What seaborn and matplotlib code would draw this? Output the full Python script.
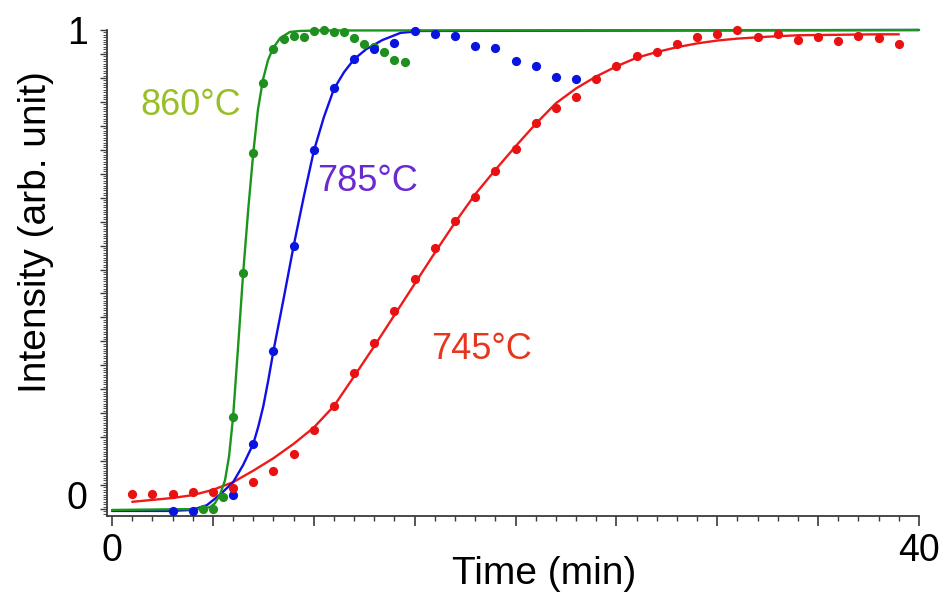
import numpy as np
import pandas as pd
import matplotlib
matplotlib.use("Agg")
import matplotlib.pyplot as plt
from matplotlib.ticker import MultipleLocator, FuncFormatter
import seaborn as sns

# ---------------- data ----------------
# 860 °C measured points
t860 = [4.5, 5.0, 5.5, 6.0, 6.5, 7.0, 7.5, 8.0, 8.5, 9.0, 9.5, 10.0, 10.5,
        11.0, 11.5, 12.0, 12.5, 13.0, 13.5, 14.0, 14.5]
i860 = [0.0, 0.0, 0.025, 0.192, 0.493, 0.743, 0.889, 0.960, 0.981, 0.987,
        0.985, 0.998, 1.0, 0.996, 0.996, 0.983, 0.971, 0.965, 0.954, 0.937, 0.933]
# 785 °C measured points
t785 = [3, 4, 6, 7, 8, 9, 10, 11, 12, 13, 14, 15, 16, 17, 18, 19, 20, 21, 22, 23]
i785 = [-0.004, -0.004, 0.029, 0.136, 0.330, 0.549, 0.749, 0.879, 0.939, 0.960,
        0.973, 0.998, 0.992, 0.987, 0.967, 0.962, 0.935, 0.925, 0.902, 0.898]
# 745 °C measured points
t745 = list(range(1, 40))
i745 = [0.031, 0.031, 0.031, 0.035, 0.035, 0.044, 0.056, 0.079, 0.115, 0.165,
        0.215, 0.284, 0.347, 0.413, 0.480, 0.545, 0.601, 0.651, 0.706, 0.752,
        0.806, 0.837, 0.860, 0.898, 0.925, 0.946, 0.954, 0.971, 0.985, 0.992,
        1.0, 0.985, 0.992, 0.979, 0.985, 0.977, 0.987, 0.983, 0.971]

# fitted curves
fit860_t = [0.0, 4.4, 4.86, 5.1, 5.35, 5.6, 5.8, 6.0, 6.25, 6.5, 6.75, 7.0,
            7.23, 7.48, 7.73, 7.98, 8.33, 8.82, 9.3, 10.3, 40.0]
fit860_i = [-0.002, 0.0, 0.004, 0.012, 0.030, 0.060, 0.110, 0.192, 0.340, 0.493,
            0.625, 0.743, 0.833, 0.896, 0.937, 0.962, 0.983, 0.996, 0.998, 0.999, 1.0]
fit785_t = [0.0, 2.87, 3.96, 4.7, 5.35, 6.0, 6.5, 7.0, 7.25, 7.5, 7.75, 8.0,
            8.5, 9.0, 9.5, 10.0, 10.5, 11.0, 11.5, 12.0, 12.6, 13.4, 14.3, 15.3, 40.0]
fit785_i = [-0.004, -0.004, -0.002, 0.008, 0.030, 0.056, 0.092, 0.136, 0.172,
            0.215, 0.270, 0.330, 0.438, 0.549, 0.651, 0.747, 0.818, 0.877, 0.912,
            0.939, 0.960, 0.979, 0.994, 0.998, 1.0]
fit745_t = [1.0, 2.0, 3.0, 4.0, 5.0, 6.0, 7.0, 8.0, 9.0, 10.0, 11.0, 12.0, 13.0,
            14.0, 15.0, 16.0, 17.0, 18.0, 19.0, 20.0, 21.0, 22.0, 23.0, 24.0,
            25.0, 26.0, 27.0, 28.0, 29.0, 30.0, 31.0, 32.5, 34.0, 36.0, 38.0, 39.0]
fit745_i = [0.015, 0.019, 0.023, 0.029, 0.040, 0.056, 0.080, 0.106, 0.136, 0.170,
            0.215, 0.277, 0.340, 0.405, 0.470, 0.535, 0.598, 0.657, 0.708, 0.757,
            0.804, 0.847, 0.878, 0.903, 0.924, 0.942, 0.954, 0.964, 0.972, 0.978,
            0.982, 0.986, 0.989, 0.990, 0.991, 0.991]

labels = ["860°C", "785°C", "745°C"]
x_ticklabels = {0: "0", 40: "40"}
y_ticklabels = {0: "0", 1: "1"}

# ---------------- style ----------------
sns.set_theme(style="white")
plt.rcParams['font.family'] = ['Liberation Sans', 'DejaVu Sans']

c_green, c_blue, c_red = "#1c951c", "#1010e6", "#ee1a1a"
c_pt_green, c_pt_blue, c_pt_red = "#1f8f1f", "#0a14e0", "#e81212"
c_lab = ["#98be28", "#6a2ad0", "#e8361e"]

fig = plt.figure(figsize=(9.49, 5.99), dpi=100)
W, H = 949, 599
ax = fig.add_axes([107 / W, (H - 516) / H, (919 - 107) / W, (516 - 30) / H])

# draw red first, green last so the green plateau lies on top
curves = [(fit745_t, fit745_i, c_red, 2.0), (fit785_t, fit785_i, c_blue, 2.1),
          (fit860_t, fit860_i, c_green, 2.2)]
for tx, iy, col, z in curves:
    sns.lineplot(x=tx, y=iy, ax=ax, color=col, linewidth=1.7, estimator=None,
                 sort=False, clip_on=False, zorder=z)

pts = [(t860, i860, c_pt_green), (t785, i785, c_pt_blue), (t745, i745, c_pt_red)]
for tx, iy, col in pts:
    sns.scatterplot(x=tx, y=iy, ax=ax, color=col, s=44, linewidth=0,
                    clip_on=False, zorder=3)

ax.set_xlim(-0.25, 40)
ax.set_ylim(-0.0146, 1.0)

# ticks
ax.xaxis.set_major_locator(MultipleLocator(5))
ax.xaxis.set_minor_locator(MultipleLocator(1))
ax.xaxis.set_major_formatter(FuncFormatter(
    lambda v, p: x_ticklabels.get(int(round(v)), "") if abs(v - round(v)) < 1e-6 else ""))
ax.yaxis.set_major_locator(MultipleLocator(0.05))
ax.yaxis.set_minor_locator(MultipleLocator(0.005))
ax.yaxis.set_major_formatter(FuncFormatter(
    lambda v, p: y_ticklabels.get(int(round(v)), "") if abs(v - round(v)) < 1e-6 else ""))

tick_col = "#3a3a3a"
ax.tick_params(axis="x", which="major", direction="out", length=7, width=1.2,
               color=tick_col, labelsize=27, labelcolor="black", pad=5, bottom=True)
ax.tick_params(axis="x", which="minor", direction="out", length=3.5, width=1.0,
               color=tick_col, bottom=True)
ax.tick_params(axis="y", which="major", direction="out", length=5, width=1.0,
               color=tick_col, labelsize=27, labelcolor="black", pad=9, left=True)
ax.tick_params(axis="y", which="minor", direction="out", length=3, width=0.8,
               color="#555555", left=True)

for side in ["top", "right"]:
    ax.spines[side].set_visible(False)
for side in ["left", "bottom"]:
    ax.spines[side].set_color(tick_col)
    ax.spines[side].set_linewidth(1.3)

fig.canvas.draw()
for lab in ax.get_yticklabels():
    if lab.get_text() == "0":
        lab.set_va("baseline")

ax.set_xlabel("Time (min)", fontsize=28, color="black")
ax.xaxis.set_label_coords((544 - 107) / 812, -0.082)
ax.set_ylabel("Intensity (arb. unit)", fontsize=28, color="black")
ax.yaxis.set_label_coords((54 - 107) / 812, (516 - 232) / 486)

# annotations
ax.text(1.39, 0.843, labels[0], color=c_lab[0], fontsize=26, ha="left", va="center")
ax.text(10.16, 0.683, labels[1], color=c_lab[1], fontsize=26, ha="left", va="center")
ax.text(15.8, 0.334, labels[2], color=c_lab[2], fontsize=26, ha="left", va="center")

fig.savefig("out.png", dpi=100, facecolor="white")
